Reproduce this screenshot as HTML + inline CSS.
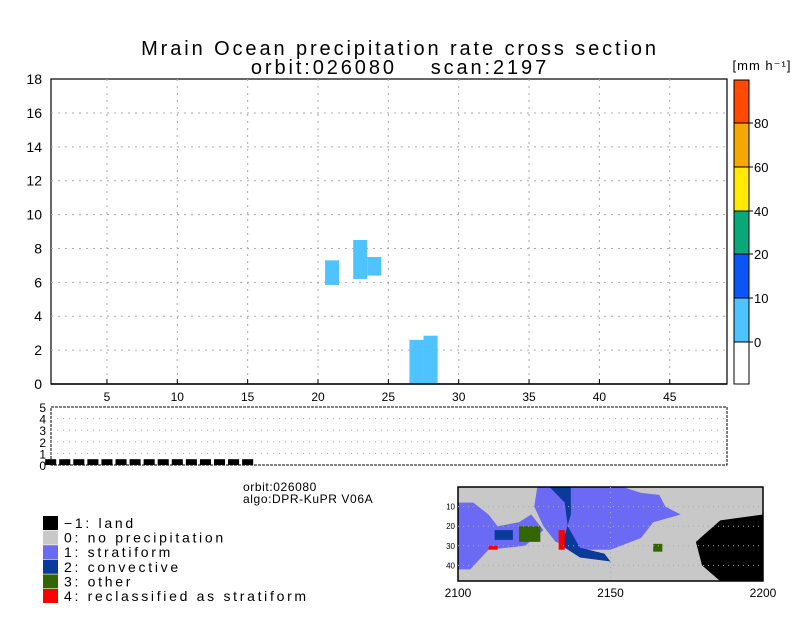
<!DOCTYPE html>
<html><head><meta charset="utf-8">
<style>
body{margin:0;background:#fff;width:800px;height:618px;overflow:hidden;font-family:"Liberation Sans",sans-serif}
svg text{font-family:"Liberation Sans",sans-serif;fill:#000}
</style></head><body>
<svg id="c" width="800" height="618" xmlns="http://www.w3.org/2000/svg">
<text x="400" y="55" font-size="20" text-anchor="middle" letter-spacing="2.9">Mrain Ocean precipitation rate cross section</text>
<text x="400" y="74" font-size="20" text-anchor="middle" letter-spacing="2.9" style="white-space:pre">orbit:026080    scan:2197</text>
<text x="762" y="70" font-size="13" text-anchor="middle" letter-spacing="1">[mm h⁻¹]</text>
<g id="main"></g>
<g id="low"></g>
<g id="cbar"></g>
<text x="243" y="491" font-size="12" letter-spacing="0.6">orbit:026080</text>
<text x="243" y="503" font-size="12" letter-spacing="0.6">algo:DPR-KuPR V06A</text>
<g id="legend"></g>
<g id="map"></g>
</svg>
<script>
const NS="http://www.w3.org/2000/svg";
function mk(p,t,a){const e=document.createElementNS(NS,t);for(const k in a)e.setAttribute(k,a[k]);p.appendChild(e);return e;}
// data
const bins=[21,23,24,27,28];
const tops=[7.3,8.5,7.5,2.6,2.85];
const bottoms=[5.85,6.2,6.4,0,0];
const xTicks=[5,10,15,20,25,30,35,40,45];
const yTicks=[0,2,4,6,8,10,12,14,16,18];
const flagBins=[1,2,3,4,5,6,7,8,9,10,11,12,13,14,15];
const flagVals=[0.5,0.5,0.5,0.5,0.5,0.5,0.5,0.5,0.5,0.5,0.5,0.5,0.5,0.5,0.5];
const lowTicks=[0,1,2,3,4,5];
const cbColors=["#ffffff","#4fc3ff","#0a55f5","#08a878","#ffea00","#f5a800","#ff4a00"];
const cbLabels=["0","10","20","40","60","80"];
const legCodes=["−1: land","0: no precipitation","1: stratiform","2: convective","3: other","4: reclassified as stratiform"];
const legColors=["#000000","#c8c8c8","#6a6af5","#0a3a9a","#336600","#ff0000"];
// axes
const X0=51,X1=727;
const x=v=>36.6+14.07*v;
const y=v=>384-16.94*v;
const yl=v=>465-11.6*v;
const main=document.getElementById('main');
mk(main,'rect',{x:X0,y:79,width:X1-X0,height:305,fill:'#fff',stroke:'#000','stroke-width':1.2});
yTicks.forEach(t=>{
 if(t>0&&t<18){const g=mk(main,'line',{x1:X0,x2:X1,y1:y(t),y2:y(t),stroke:'#aaa','stroke-dasharray':'2,5'});}
 const l=mk(main,'text',{x:42,y:y(t)+5,'font-size':14,'text-anchor':'end'});l.textContent=t;
 
});
xTicks.forEach(t=>{
 const g=mk(main,'line',{x1:x(t),x2:x(t),y1:79,y2:384,stroke:'#aaa','stroke-dasharray':'2,5'});
 
 mk(main,'line',{x1:x(t),x2:x(t),y1:384,y2:379,stroke:'#000'});
 const l=mk(main,'text',{x:x(t),y:401,'font-size':12,'text-anchor':'middle'});l.textContent=t;
 
});
bins.forEach((b,i)=>{
 const r=mk(main,'rect',{x:x(b-0.5),y:y(tops[i]),width:x(b+0.5)-x(b-0.5),height:y(bottoms[i])-y(tops[i]),fill:'#4fc3ff'});
 
});
mk(main,'line',{x1:X0,x2:X1,y1:384,y2:384,stroke:'#000','stroke-width':1.5});
// lower
const low=document.getElementById('low');
mk(low,'rect',{x:X0,y:407,width:X1-X0,height:58,fill:'#fff',stroke:'#000','stroke-dasharray':'3,1'});
lowTicks.forEach(t=>{
 if(t>0&&t<5)mk(low,'line',{x1:X0,x2:X1,y1:yl(t),y2:yl(t),stroke:'#aaa','stroke-dasharray':'1,5'});
 const l=mk(low,'text',{x:46,y:yl(t)+5,'font-size':12,'text-anchor':'end'});l.textContent=t;
 
});
flagBins.forEach((b,i)=>{
 const r=mk(low,'rect',{x:x(b-0.5)+1.5,y:yl(flagVals[i]),width:x(b+0.5)-x(b-0.5)-3,height:yl(0)-yl(flagVals[i]),fill:'#000'});
 
});
// colorbar
const cb=document.getElementById('cbar');
const cbB=[384,342,298,254,211,167,123,80];
cbColors.forEach((c,i)=>{
 const r=mk(cb,'rect',{x:734,y:cbB[i+1],width:15,height:cbB[i]-cbB[i+1],fill:c,stroke:'#000'});
 
});
cbLabels.forEach((t,i)=>{
 mk(cb,'line',{x1:749,x2:753,y1:cbB[i+1],y2:cbB[i+1],stroke:'#000'});
 const l=mk(cb,'text',{x:754,y:cbB[i+1]+5,'font-size':13});l.textContent=t;
 
});
// legend
const lg=document.getElementById('legend');
legCodes.forEach((t,i)=>{
 const yy=516+i*14.6;
 const r=mk(lg,'rect',{x:43,y:yy,width:15,height:14,fill:legColors[i]});
 
 const l=mk(lg,'text',{x:64,y:yy+12,'font-size':14,'letter-spacing':'2.7'});l.textContent=t;
 
});
// map
const mp=document.getElementById('map');
const mx=v=>458+3.05*(v-2100), my=v=>487+1.96*v;
mk(mp,'rect',{x:458,y:487,width:305,height:94,fill:'#c8c8c8'});
const poly=(pts,c)=>{const p=mk(mp,'polygon',{points:pts.map(q=>mx(q[0])+','+my(q[1])).join(' '),fill:c});};
poly([[2126,0],[2154,0],[2160,3],[2166,4],[2168,10],[2173,14],[2164,18],[2160,26],[2150,32],[2140,32],[2132,28],[2128,20],[2125,10]],'#6a6af5');
poly([[2100,8],[2105,8],[2110,14],[2113,20],[2120,18],[2124,14],[2128,22],[2122,30],[2110,32],[2104,42],[2100,42]],'#6a6af5');
poly([[2130,0],[2137,0],[2137,14],[2134,30],[2140,36],[2150,38],[2148,34],[2140,31],[2136,20],[2135,8]],'#0a3a9a');
poly([[2112,22],[2118,22],[2118,27],[2112,27]],'#0a3a9a');
poly([[2120,20],[2127,20],[2127,28],[2120,28]],'#336600');
poly([[2133,22],[2135,22],[2135,32],[2133,32]],'#ff0000');
poly([[2110,30],[2113,30],[2113,32],[2110,32]],'#ff0000');
poly([[2186,17],[2200,14],[2200,48],[2186,48],[2180,40],[2178,28]],'#000');
poly([[2164,29],[2167,29],[2167,33],[2164,33]],'#336600');
mk(mp,'rect',{x:458,y:487,width:305,height:94,fill:'none',stroke:'#000','stroke-width':1.5});
[10,20,30,40].forEach(t=>{
 mk(mp,'line',{x1:458,x2:763,y1:my(t),y2:my(t),stroke:'#aaa','stroke-dasharray':'1,4'});
 const l=mk(mp,'text',{x:455,y:my(t)+3,'font-size':8,'text-anchor':'end'});l.textContent=t;
 
});
mk(mp,'line',{x1:mx(2150),x2:mx(2150),y1:487,y2:581,stroke:'#aaa','stroke-dasharray':'1,4'});
[2100,2150,2200].forEach(t=>{
 const l=mk(mp,'text',{x:mx(t),y:597,'font-size':12,'text-anchor':'middle'});l.textContent=t;
 
});
</script>
</body></html>
